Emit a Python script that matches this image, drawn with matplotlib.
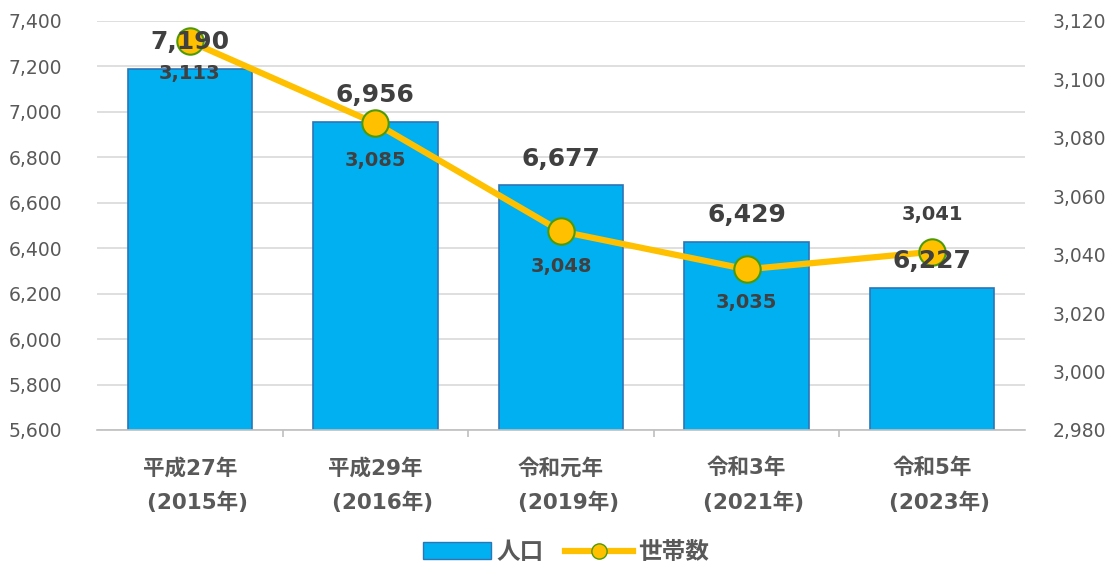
import matplotlib
matplotlib.use("Agg")
import matplotlib.pyplot as plt
from matplotlib.patches import Patch
from matplotlib.lines import Line2D
from matplotlib.ticker import FuncFormatter, MultipleLocator

plt.rcParams['font.family'] = ['DejaVu Sans', 'Noto Sans CJK JP']

categories = ["平成27年\n  (2015年)", "平成29年\n  (2016年)", "令和元年\n  (2019年)",
              "令和3年\n  (2021年)", "令和5年\n  (2023年)"]
population = [7190, 6956, 6677, 6429, 6227]
households = [3113, 3085, 3048, 3035, 3041]
hh_label_offsets = [-23, -27, -25, -24, 27]   # points; negative = below marker

fig = plt.figure(figsize=(11.16, 5.66), dpi=100)
ax = fig.add_axes([0.0869, 0.2403, 0.8315, 0.7226])
ax2 = ax.twinx()

x = list(range(len(categories)))
grey = '#595959'
dark = '#404040'

ax.bar(x, population, width=0.67, color='#00B0F0', edgecolor='#2E75B6', linewidth=1.2, zorder=2)
ax.set_ylim(5600, 7400)
ax.set_xlim(-0.5, len(categories) - 0.5)
ax.yaxis.set_major_locator(MultipleLocator(200))
ax.yaxis.set_major_formatter(FuncFormatter(lambda v, p: f"{int(v):,}"))
ax.grid(axis='y', color='#D9D9D9', linewidth=1.2, zorder=0)
ax.set_axisbelow(True)
for s in ['top', 'right', 'left']:
    ax.spines[s].set_visible(False)
ax.spines['bottom'].set_color('#BFBFBF')
ax.spines['bottom'].set_linewidth(1.2)
ax.tick_params(axis='y', length=0, labelsize=13.5, labelcolor=grey, pad=25)
ax.set_xticks(x)
ax.set_xticklabels(categories, fontsize=15.5, fontweight='bold', color=grey, linespacing=1.75)
ax.set_xticks([i + 0.5 for i in x[:-1]], minor=True)
ax.tick_params(axis='x', which='major', length=0, pad=20)
ax.tick_params(axis='x', which='minor', length=5, color='#BFBFBF', width=1.2)

ax2.plot(x, households, color='#FFC000', linewidth=4.5, marker='o', markersize=19,
         markerfacecolor='#FFC000', markeredgecolor='#4E9A06', markeredgewidth=1.5, zorder=4)
ax2.set_ylim(2980, 3120)
ax2.yaxis.set_major_locator(MultipleLocator(20))
ax2.yaxis.set_major_formatter(FuncFormatter(lambda v, p: f"{int(v):,}"))
for s in ['top', 'right', 'left', 'bottom']:
    ax2.spines[s].set_visible(False)
ax2.tick_params(axis='y', length=0, labelsize=13.5, labelcolor=grey, pad=20)

for xi, v in zip(x, population):
    ax2.annotate(f"{v:,}", (xi, v), xycoords=ax.transData, xytext=(0, 19), textcoords='offset points',
                 ha='center', va='center', fontsize=18, fontweight='bold', color=dark, zorder=6)

for xi, v, off in zip(x, households, hh_label_offsets):
    ax2.annotate(f"{v:,}", (xi, v), xytext=(0, off), textcoords='offset points',
                 ha='center', va='center', fontsize=14, fontweight='bold', color=dark, zorder=6)

handles = [Patch(facecolor='#00B0F0', edgecolor='#2E75B6', label='人口'),
           Line2D([0], [0], color='#FFC000', linewidth=4.5, marker='o', markersize=11,
                  markerfacecolor='#FFC000', markeredgecolor='#4E9A06', label='世帯数')]
leg = fig.legend(handles=handles, loc='center', bbox_to_anchor=(0.507, 0.025), ncol=2,
                 frameon=False, fontsize=17, handlelength=2.9, handletextpad=0.2,
                 columnspacing=0.9)
for t in leg.get_texts():
    t.set_color(grey)
    t.set_fontweight('bold')

fig.savefig('out.png', dpi=100)
